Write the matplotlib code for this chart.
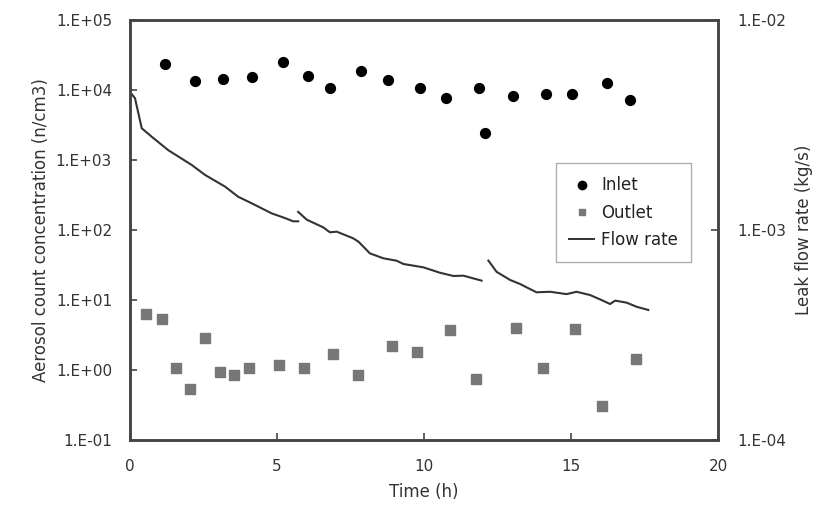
import matplotlib
matplotlib.use("Agg")
import matplotlib.pyplot as plt
from matplotlib.lines import Line2D

plt.rcParams['font.family'] = ['DejaVu Sans']

inlet_t = [1.19, 2.21, 3.15, 4.16, 5.19, 6.05, 6.80, 7.87, 8.76, 9.88, 10.76, 11.86, 12.07, 13.04, 14.15, 15.02, 16.21, 17.0]
inlet_c = [2.33e4, 1.36e4, 1.44e4, 1.53e4, 2.5e4, 1.6e4, 1.07e4, 1.89e4, 1.39e4, 1.08e4, 7.6e3, 1.06e4, 2.43e3, 8.2e3, 8.9e3, 8.7e3, 1.27e4, 7.2e3]

outlet_t = [0.54, 1.08, 1.55, 2.05, 2.56, 3.05, 3.55, 4.06, 5.08, 5.93, 6.92, 7.77, 8.9, 9.77, 10.88, 11.78, 13.13, 14.06, 15.15, 16.07, 17.2]
outlet_c = [6.3, 5.35, 1.06, 0.53, 2.87, 0.95, 0.85, 1.06, 1.17, 1.06, 1.69, 0.85, 2.23, 1.81, 3.69, 0.74, 4.0, 1.06, 3.81, 0.31, 1.42]

flow1_t = [0.03, 0.17, 0.40, 0.74, 1.30, 2.10, 2.55, 3.23, 3.68, 4.14, 4.82, 5.27, 5.55, 5.72]
flow1_q = [4.49e-3, 4.24e-3, 3.05e-3, 2.78e-3, 2.40e-3, 2.04e-3, 1.83e-3, 1.61e-3, 1.44e-3, 1.34e-3, 1.20e-3, 1.14e-3, 1.10e-3, 1.10e-3]
flow2_t = [5.72, 6.01, 6.57, 6.80, 7.03, 7.59, 7.77, 8.16, 8.62, 9.07, 9.30, 9.98, 10.54, 11.0, 11.34, 11.96]
flow2_q = [1.22e-3, 1.12e-3, 1.03e-3, 9.75e-4, 9.82e-4, 9.13e-4, 8.80e-4, 7.74e-4, 7.33e-4, 7.14e-4, 6.89e-4, 6.64e-4, 6.26e-4, 6.04e-4, 6.06e-4, 5.74e-4]
flow3_t = [12.19, 12.47, 12.93, 13.27, 13.55, 13.83, 14.29, 14.85, 15.19, 15.65, 16.04, 16.33, 16.50, 16.89, 17.23, 17.63]
flow3_q = [7.15e-4, 6.32e-4, 5.78e-4, 5.53e-4, 5.28e-4, 5.05e-4, 5.08e-4, 4.95e-4, 5.08e-4, 4.90e-4, 4.64e-4, 4.44e-4, 4.61e-4, 4.51e-4, 4.31e-4, 4.16e-4]

left_ticks = [1e-1, 1e0, 1e1, 1e2, 1e3, 1e4, 1e5]
left_labels = ['1.E-01', '1.E+00', '1.E+01', '1.E+02', '1.E+03', '1.E+04', '1.E+05']
right_ticks = [1e-4, 1e-3, 1e-2]
right_labels = ['1.E-04', '1.E-03', '1.E-02']
x_ticks = [0, 5, 10, 15, 20]

spine_col = '#444444'
fig = plt.figure(figsize=(8.32, 5.15), dpi=100)
ax = fig.add_axes([130/832, 1-440/515, 588/832, 420/515])
ax2 = ax.twinx()

ax.scatter(inlet_t, inlet_c, s=50, color='black', marker='o', zorder=3)
ax.scatter(outlet_t, outlet_c, s=50, color='#777777', marker='s', zorder=3)
for t, q in [(flow1_t, flow1_q), (flow2_t, flow2_q), (flow3_t, flow3_q)]:
    ax2.plot(t, q, color='#333333', lw=1.5)

ax.set_xlim(0, 20)
ax.set_yscale('log')
ax.set_ylim(1e-1, 1e5)
ax2.set_yscale('log')
ax2.set_ylim(1e-4, 1e-2)

ax.set_xticks(x_ticks)
ax.set_xticklabels([str(v) for v in x_ticks])
ax.set_yticks(left_ticks)
ax.set_yticklabels(left_labels)
ax.yaxis.set_minor_locator(matplotlib.ticker.NullLocator())
ax2.set_yticks(right_ticks)
ax2.set_yticklabels(right_labels)
ax2.yaxis.set_minor_locator(matplotlib.ticker.NullLocator())

fs = 11
ax.tick_params(axis='both', direction='in', length=5, width=1.2, color=spine_col,
               labelsize=fs, labelcolor='#333333')
ax.tick_params(axis='y', pad=13)
ax.tick_params(axis='x', pad=14)
ax2.tick_params(axis='y', direction='in', length=5, width=1.2, color=spine_col,
                labelsize=fs, labelcolor='#333333', pad=14)
for a in (ax, ax2):
    for s in a.spines.values():
        s.set_color(spine_col)
        s.set_linewidth(1.8)

ax.set_xlabel('Time (h)', fontsize=12, color='#333333', labelpad=6)
ax.set_ylabel('Aerosol count concentration (n/cm3)', fontsize=12, color='#333333', labelpad=4)
ax2.set_ylabel('Leak flow rate (kg/s)', fontsize=12, color='#333333', labelpad=6)

handles = [
    Line2D([], [], marker='o', color='black', ls='none', markersize=6),
    Line2D([], [], marker='s', color='#777777', ls='none', markersize=5),
    Line2D([], [], color='#333333', lw=1.4),
]
leg = ax.legend(handles, ['Inlet', 'Outlet', 'Flow rate'], loc='upper left',
                bbox_to_anchor=((556-130)/588, (440-163)/420), borderaxespad=0,
                fontsize=12, frameon=True, fancybox=False, handlelength=1.5,
                handletextpad=0.4, borderpad=0.8, labelspacing=0.55)
leg.get_frame().set_edgecolor('#999999')
leg.get_frame().set_linewidth(1.0)
for t in leg.get_texts():
    t.set_color('#222222')

fig.savefig('out.png', dpi=100)
